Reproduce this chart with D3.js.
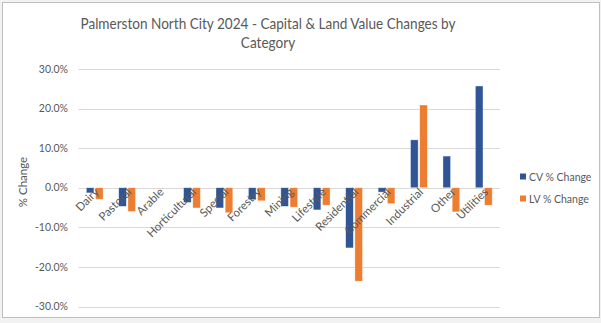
<!DOCTYPE html>
<html><head><meta charset="utf-8">
<script src="https://cdn.jsdelivr.net/npm/d3@7/dist/d3.min.js"></script>
<style>body{margin:0;background:#fff;font-family:Lato,"Open Sans",sans-serif;}</style>
</head><body><svg id="c" width="601" height="323"></svg>
<script>
const categories = ["Dairy","Pastoral","Arable","Horticultural","Special","Forestry","Mining","Lifestyle","Residential","Commercial","Industrial","Other","Utilities"];
const cvChange = [-1.3,-4.7,0,-3.7,-5.1,-3.0,-4.7,-5.6,-15.2,-1.1,12.1,8.0,25.7];
const lvChange = [-2.9,-6.0,0,-5.1,-6.3,-3.3,-4.9,-4.4,-23.6,-4.0,20.9,-6.1,-4.4];
const seriesNames = ["CV % Change","LV % Change"];
const colors = ["#2F5597","#ED7D31"];
const yTicks = [-30,-20,-10,0,10,20,30];
const titleLines = ["Palmerston North City 2024 - Capital & Land Value Changes by","Category"];

const svg = d3.select("#c");
svg.append("rect").attr("x",0).attr("y",0).attr("width",601).attr("height",323).attr("fill","#f2f2f2");
svg.append("rect").attr("x",2.5).attr("y",2.5).attr("width",597).attr("height",315).attr("fill","#fff").attr("stroke","#bfbfbf");

const left=78.5, right=500;
const x = d3.scaleBand().domain(categories).range([left,right]).paddingInner(0).paddingOuter(0);
const y = d3.scaleLinear().domain([-30,30]).range([306.5,69]);
const bw = 7.6, gap = 1.6;

svg.append("g").selectAll("line").data(yTicks).join("line")
  .attr("x1",left).attr("x2",right).attr("y1",d=>Math.round(y(d))+0.5).attr("y2",d=>Math.round(y(d))+0.5)
  .attr("stroke","#d9d9d9").attr("stroke-width",1);

svg.append("g").selectAll("text").data(yTicks).join("text")
  .attr("x",68).attr("y",d=>y(d)).attr("dy","0.35em").attr("text-anchor","end")
  .attr("font-size",10.5).attr("fill","#595959").text(d=>d.toFixed(1)+"%");

svg.append("text").attr("transform","translate(27,182) rotate(-90)").attr("text-anchor","middle")
  .attr("font-size",11.5).attr("fill","#595959").text("% Change");

const series=[cvChange,lvChange];
series.forEach((vals,si)=>{
  svg.append("g").selectAll("rect").data(categories).join("rect")
    .attr("x",(c)=>x(c)+x.bandwidth()/2 - (bw+gap/2) + si*(bw+gap))
    .attr("width",bw)
    .attr("y",(c,i)=>Math.min(y(vals[i]),y(0)))
    .attr("height",(c,i)=>Math.abs(y(vals[i])-y(0)))
    .attr("fill",colors[si]).attr("stroke","#fff").attr("stroke-opacity",0.6).attr("stroke-width",0.6);
});

svg.append("g").selectAll("text").data(categories).join("text")
  .attr("transform",c=>`translate(${x(c)+x.bandwidth()/2+5},${y(0)+5}) rotate(-45)`)
  .attr("text-anchor","end").attr("font-size",11.5).attr("fill","#595959").text(c=>c);

const tt = svg.append("g").selectAll("text").data(titleLines).join("text")
  .attr("x",268).attr("y",(d,i)=>29+i*19).attr("text-anchor","middle")
  .attr("font-size",16).attr("fill","#595959").text(d=>d);
const natural0 = tt.nodes()[0].getComputedTextLength();
const factor = 375/natural0;
tt.each(function(){ const L=this.getComputedTextLength(); d3.select(this).attr("textLength",L*factor).attr("lengthAdjust","spacingAndGlyphs"); });

const lg = svg.append("g").selectAll("g").data(seriesNames).join("g")
  .attr("transform",(d,i)=>`translate(520,${177+i*22})`);
lg.append("rect").attr("x",0).attr("y",-3.5).attr("width",6).attr("height",6).attr("fill",(d,i)=>colors[i]);
lg.append("text").attr("x",9).attr("y",0).attr("dy","0.35em").attr("font-size",10.5).attr("fill","#595959").text(d=>d);
</script></body></html>
